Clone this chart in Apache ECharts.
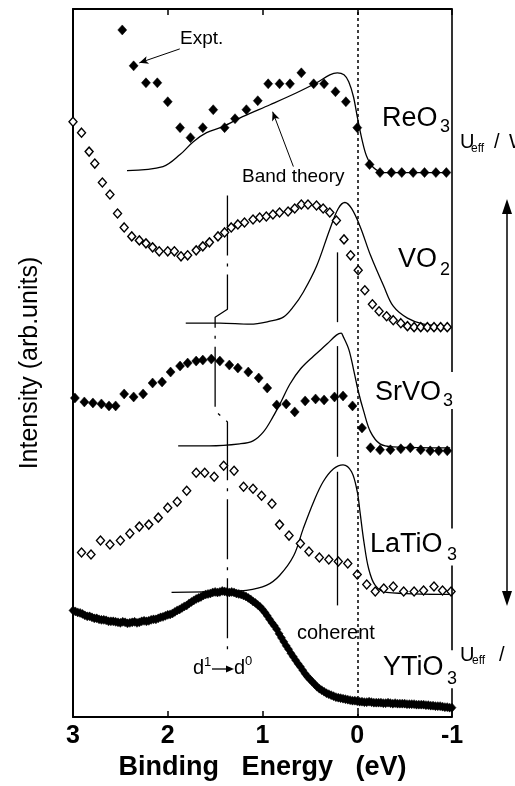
<!DOCTYPE html>
<html>
<head>
<meta charset="utf-8">
<script src="https://cdn.jsdelivr.net/npm/echarts@6/dist/echarts.min.js"></script>
<style>
  html, body { margin: 0; padding: 0; background: #fff; }
  #chart { width: 515px; height: 786px; }
</style>
</head>
<body>
<div id="chart"></div>
<script>
// Photoemission spectra of d0/d1 perovskite-type oxides vs. band theory.
// Energies in eV (binding energy), intensities in arbitrary units with a vertical offset per compound.

const xTicks = [3, 2, 1, 0, -1];

// ReO3
const reo3ExptE = [2.48, 2.36, 2.23, 2.11, 2.00, 1.87, 1.76, 1.63, 1.52, 1.40, 1.29, 1.17, 1.05, 0.94, 0.82, 0.71, 0.59, 0.46, 0.35, 0.23, 0.12, 0.00, -0.13, -0.24, -0.36, -0.47, -0.59, -0.71, -0.83, -0.94];
const reo3ExptI = [689, 653, 636, 636, 617, 591, 581, 591, 609, 591, 600, 609, 618, 635, 635, 635, 646, 635, 635, 627, 617, 591, 554, 546, 546, 546, 546, 546, 546, 546];
const reo3BandE = [2.43, 2.05, 1.87, 1.73, 1.59, 1.42, 1.21, 0.92, 0.64, 0.43, 0.29, 0.21, 0.14, 0.09, 0.04, 0.00, -0.05, -0.10, -0.17, -0.28, -0.98];
const reo3BandI = [548, 552, 564, 577, 586, 592, 602, 614, 626, 636, 644, 646, 644, 637, 622, 602, 579, 562, 551, 546, 546];

// VO2
const vo2ExptE = [3.00, 2.91, 2.83, 2.77, 2.69, 2.61, 2.53, 2.46, 2.38, 2.30, 2.23, 2.16, 2.09, 2.00, 1.93, 1.86, 1.79, 1.70, 1.63, 1.56, 1.47, 1.40, 1.33, 1.26, 1.19, 1.10, 1.03, 0.96, 0.89, 0.82, 0.73, 0.66, 0.59, 0.52, 0.43, 0.36, 0.29, 0.22, 0.14, 0.07, -0.01, -0.08, -0.16, -0.23, -0.31, -0.38, -0.46, -0.53, -0.60, -0.67, -0.74, -0.81, -0.88, -0.95];
const vo2ExptI = [597, 586, 567, 555, 536, 524, 505, 491, 482, 478, 475, 471, 467, 467, 467, 462, 463, 468, 472, 476, 482, 486, 491, 494, 496, 499, 501, 502, 504, 506, 507, 510, 514, 514, 513, 510, 506, 498, 479, 463, 448, 428, 414, 407, 402, 398, 395, 392, 391, 391, 391, 391, 391, 391];
const vo2BandE = [1.81, 1.45, 1.13, 0.92, 0.78, 0.67, 0.57, 0.43, 0.29, 0.20, 0.13, 0.06, -0.03, -0.14, -0.28, -0.38, -0.53, -0.70, -0.98];
const vo2BandI = [395, 395, 394, 397, 401, 412, 426, 452, 489, 510, 516, 510, 492, 463, 432, 412, 400, 394, 392];

// SrVO3
const srvo3ExptE = [2.98, 2.88, 2.79, 2.70, 2.62, 2.55, 2.46, 2.36, 2.26, 2.16, 2.06, 1.97, 1.87, 1.79, 1.70, 1.63, 1.54, 1.45, 1.35, 1.26, 1.15, 1.04, 0.95, 0.85, 0.75, 0.66, 0.55, 0.44, 0.35, 0.24, 0.15, 0.05, -0.05, -0.14, -0.24, -0.35, -0.46, -0.56, -0.67, -0.77, -0.86, -0.95];
const srvo3ExptI = [320, 316, 315, 314, 312, 312, 324, 321, 324, 335, 336, 346, 352, 355, 357, 358, 359, 357, 353, 350, 346, 340, 330, 313, 314, 306, 317, 319, 318, 321, 322, 312, 290, 270, 268, 268, 269, 270, 268, 267, 267, 267];
const srvo3BandE = [1.89, 1.56, 1.24, 1.10, 0.99, 0.89, 0.80, 0.71, 0.60, 0.46, 0.32, 0.22, 0.17, 0.15, 0.09, 0.04, -0.01, -0.07, -0.14, -0.24, -0.38, -0.98];
const srvo3BandI = [272, 272, 274, 277, 286, 301, 317, 334, 349, 362, 374, 383, 385, 382, 369, 349, 327, 306, 286, 274, 271, 270];

// LaTiO3
const latio3ExptE = [2.91, 2.81, 2.71, 2.61, 2.50, 2.40, 2.30, 2.20, 2.10, 2.00, 1.90, 1.80, 1.70, 1.61, 1.51, 1.41, 1.30, 1.20, 1.10, 1.01, 0.90, 0.82, 0.72, 0.60, 0.51, 0.40, 0.30, 0.20, 0.10, 0.00, -0.10, -0.19, -0.28, -0.38, -0.49, -0.60, -0.70, -0.81, -0.90, -0.99];
const latio3ExptI = [165, 163, 177, 173, 177, 184, 191, 193, 200, 210, 216, 227, 245, 245, 241, 252, 247, 231, 229, 222, 214, 193, 182, 174, 166, 160, 158, 156, 154, 143, 133, 126, 129, 131, 126, 126, 127, 131, 127, 126];
const latio3BandE = [1.96, 1.38, 1.17, 0.96, 0.82, 0.67, 0.57, 0.46, 0.36, 0.25, 0.15, 0.06, 0.00, -0.03, -0.07, -0.12, -0.19, -0.31, -0.98];
const latio3BandI = [125, 126, 127, 132, 142, 162, 189, 216, 236, 249, 253, 246, 226, 205, 176, 149, 132, 125, 123];

// YTiO3 (densely sampled spectrum)
const ytio3ExptE = [
  3.000, 2.975, 2.950, 2.925, 2.900, 2.875, 2.850, 2.825, 2.800, 2.775,
  2.750, 2.725, 2.700, 2.675, 2.650, 2.625, 2.600, 2.575, 2.550, 2.525,
  2.500, 2.475, 2.450, 2.425, 2.400, 2.375, 2.350, 2.325, 2.300, 2.275,
  2.250, 2.225, 2.200, 2.175, 2.150, 2.125, 2.100, 2.075, 2.050, 2.025,
  2.000, 1.975, 1.950, 1.925, 1.900, 1.875, 1.850, 1.825, 1.800, 1.775,
  1.750, 1.725, 1.700, 1.675, 1.650, 1.625, 1.600, 1.575, 1.550, 1.525,
  1.500, 1.475, 1.450, 1.425, 1.400, 1.375, 1.350, 1.325, 1.300, 1.275,
  1.250, 1.225, 1.200, 1.175, 1.150, 1.125, 1.100, 1.075, 1.050, 1.025,
  1.000, 0.975, 0.950, 0.925, 0.900, 0.875, 0.850, 0.825, 0.800, 0.775,
  0.750, 0.725, 0.700, 0.675, 0.650, 0.625, 0.600, 0.575, 0.550, 0.525,
  0.500, 0.475, 0.450, 0.425, 0.400, 0.375, 0.350, 0.325, 0.300, 0.275,
  0.250, 0.225, 0.200, 0.175, 0.150, 0.125, 0.100, 0.075, 0.050, 0.025,
  0.000, -0.025, -0.050, -0.075, -0.100, -0.125, -0.150, -0.175, -0.200, -0.225,
  -0.250, -0.275, -0.300, -0.325, -0.350, -0.375, -0.400, -0.425, -0.450, -0.475,
  -0.500, -0.525, -0.550, -0.575, -0.600, -0.625, -0.650, -0.675, -0.700, -0.725,
  -0.750, -0.775, -0.800, -0.825, -0.850, -0.875, -0.900, -0.925, -0.950, -0.975,
  -1.000
];
const ytio3ExptI = [
  107, 106, 105, 104.5, 103.5, 102, 101, 101, 100, 99,
  99, 98, 97.5, 97.5, 97, 96, 96, 96, 95.5, 95,
  94.5, 95.5, 95, 94, 94.5, 95, 95.5, 94.5, 95, 96,
  96.5, 96, 96.5, 97.5, 98, 98, 99, 100, 100.5, 101.5,
  102.5, 103, 104, 105.5, 107, 108, 109.5, 111, 112, 114,
  115.5, 117, 118.5, 119.5, 120.5, 122, 123, 123.5, 124, 125,
  125.5, 125, 125.5, 126.5, 126, 125.5, 125, 125.5, 125, 124,
  123.5, 123, 122, 121, 119.5, 118, 116, 114.5, 112.5, 110.5,
  108, 105, 101.5, 98, 94.5, 91.5, 88, 83.5, 79.5, 75.5,
  71.5, 68, 64, 60.5, 57, 53.5, 50.5, 47, 43.5, 40.5,
  38, 35.5, 33, 30.5, 28.5, 27, 25.5, 24, 23, 22,
  21, 20, 19.5, 19, 18.5, 18, 17.5, 17, 16.5, 16.5,
  16, 15.5, 15.5, 15, 15, 15.5, 15, 14.5, 14.5, 14.5,
  14.5, 14, 14, 14.5, 14, 13.5, 14, 13.5, 13.5, 13.5,
  13.5, 13, 13, 13, 13, 12.5, 12.5, 12.5, 12.5, 12,
  12, 11.5, 11.5, 11, 11, 11, 10.5, 10, 10, 9.5,
  9.5
];

// Guide lines: incoherent d1 -> d0 feature and coherent peak position
const incoherentGuideE = [1.37, 1.37, 1.50, 1.50, 1.37, 1.37];
const incoherentGuideI = [523, 409, 401, 307, 296, 66];
const coherentGuideE = 0.21;
const coherentGuideSegments = [[466, 396], [372, 261], [246, 112]];

const pairs = (xs, ys) => xs.map((x, i) => [x, ys[i]]);

const FONT = '"Liberation Sans", Arial, Helvetica, sans-serif';
const INK = '#000';

function expt(name, xs, ys, open, size) {
  return {
    name, type: 'scatter', z: 4,
    data: pairs(xs, ys),
    symbol: 'diamond',
    symbolSize: size,
    itemStyle: open
      ? { color: '#fff', borderColor: INK, borderWidth: 1.4, opacity: 1 }
      : { color: INK, borderColor: INK, borderWidth: 0.5, opacity: 1 },
    emphasis: { disabled: true },
    silent: true
  };
}
function band(name, xs, ys) {
  return {
    name, type: 'line', z: 3,
    data: pairs(xs, ys),
    showSymbol: false, symbol: 'none',
    smooth: 0.35,
    lineStyle: { color: INK, width: 1.3 },
    emphasis: { disabled: true },
    silent: true
  };
}

const chart = echarts.init(document.getElementById('chart'), null, { renderer: 'canvas' });

const axisCommon = {
  type: 'value', min: -1, max: 3, interval: 1, inverse: true,
  axisLine: { show: true, onZero: false, lineStyle: { color: INK, width: 2 } },
  axisTick: { show: true, inside: true, length: 6, lineStyle: { color: INK, width: 1.5 } },
  splitLine: { show: false }
};

const textEls = [];
function txt(t, x, y, size, weight) {
  textEls.push({
    type: 'text', silent: true, z: 10,
    style: {
      text: t, x, y, fill: INK,
      font: (weight || 'normal') + ' ' + size + 'px ' + FONT,
      textAlign: 'left', align: 'left',
      textVerticalAlign: 'middle', verticalAlign: 'middle'
    }
  });
}
txt('Expt.', 180, 39, 19);
txt('Band theory', 242, 176.5, 19);
txt('ReO', 382, 119, 27); txt('3', 440, 127, 18);
txt('VO', 398, 260, 27); txt('2', 440, 270, 18);
txt('SrVO', 375, 392.5, 27); txt('3', 443, 401.5, 18);
txt('LaTiO', 370, 545, 27); txt('3', 447, 555, 18);
txt('YTiO', 383, 668, 27); txt('3', 447, 679.5, 18);
txt('coherent', 297, 633, 20);
txt('U', 460, 142.5, 20); txt('eff', 471, 149, 12); txt('/', 494, 142, 20); txt('W', 509, 142, 20);
txt('U', 460, 655, 20); txt('eff', 472, 661, 12); txt('/', 499, 655, 20);
txt('d', 193, 668, 20); txt('1', 204, 662, 13);
txt('d', 234, 668, 20); txt('0', 245, 661, 13);

const shapes = [
  // d1 -> d0 arrow
  { type: 'line', silent: true, shape: { x1: 212, y1: 669, x2: 227, y2: 669 }, style: { stroke: INK, lineWidth: 1.3 } },
  { type: 'polygon', silent: true, shape: { points: [[226, 665.5], [234, 669], [226, 672.5]] }, style: { fill: INK } },
  // U_eff / W scale arrow
  { type: 'line', silent: true, shape: { x1: 507, y1: 210, x2: 507, y2: 595 }, style: { stroke: INK, lineWidth: 1.5 } },
  { type: 'polygon', silent: true, shape: { points: [[507, 199], [502, 214], [512, 214]] }, style: { fill: INK } },
  { type: 'polygon', silent: true, shape: { points: [[507, 606], [502, 591], [512, 591]] }, style: { fill: INK } }
];

const option = {
  animation: false,
  backgroundColor: '#fff',
  grid: { left: 73, right: 63, top: 9, bottom: 67, containLabel: false },
  xAxis: [
    Object.assign({}, axisCommon, {
      position: 'bottom',
      axisLabel: {
        show: true, color: INK, fontSize: 25, fontWeight: 'bold', fontFamily: FONT, margin: 7,
        formatter: v => (xTicks.indexOf(v) >= 0 ? String(v) : '')
      },
      name: 'Binding   Energy   (eV)',
      nameLocation: 'middle', nameGap: 36,
      nameTextStyle: { color: INK, fontSize: 27, fontWeight: 'bold', fontFamily: FONT }
    }),
    Object.assign({}, axisCommon, {
      position: 'top',
      axisLabel: { show: false }
    })
  ],
  yAxis: [{
    type: 'value', min: 0, max: 710, position: 'left',
    axisLine: { show: true, onZero: false, lineStyle: { color: INK, width: 2 } },
    axisTick: { show: false }, axisLabel: { show: false }, splitLine: { show: false },
    name: 'Intensity (arb.units)', nameLocation: 'middle', nameRotate: 90, nameGap: 30,
    nameTextStyle: { color: INK, fontSize: 25, fontFamily: FONT }
  }],
  series: [
    expt('YTiO3', ytio3ExptE, ytio3ExptI, false, [8, 9]),
    band('LaTiO3 band', latio3BandE, latio3BandI),
    expt('LaTiO3', latio3ExptE, latio3ExptI, true, [8, 9]),
    band('SrVO3 band', srvo3BandE, srvo3BandI),
    expt('SrVO3', srvo3ExptE, srvo3ExptI, false, [9, 10]),
    band('VO2 band', vo2BandE, vo2BandI),
    expt('VO2', vo2ExptE, vo2ExptI, true, [8, 9]),
    band('ReO3 band', reo3BandE, reo3BandI),
    expt('ReO3', reo3ExptE, reo3ExptI, false, [9, 10]),
    {
      name: 'd1-d0 guide', type: 'line', z: 2,
      data: pairs(incoherentGuideE, incoherentGuideI),
      showSymbol: false, symbol: 'none',
      lineStyle: { color: INK, width: 1.3, type: [60, 8, 3, 8] },
      silent: true
    },
    {
      name: 'guides', type: 'line', data: [], silent: true,
      markLine: {
        silent: true, symbol: 'none', animation: false,
        label: { show: false },
        lineStyle: { color: INK, width: 1.3, type: 'solid' },
        data: [
          [{ coord: [0, 0], lineStyle: { type: [3, 3], width: 1.5 } }, { coord: [0, 710] }],
          ...coherentGuideSegments.map(s => [{ coord: [coherentGuideE, s[0]] }, { coord: [coherentGuideE, s[1]] }]),
          // right frame, interrupted by the compound labels
          [{ coord: [-1, 710], lineStyle: { width: 1.6 } }, { coord: [-1, 346] }],
          [{ coord: [-1, 309], lineStyle: { width: 1.6 } }, { coord: [-1, 189] }],
          [{ coord: [-1, 152], lineStyle: { width: 1.6 } }, { coord: [-1, 67] }],
          [{ coord: [-1, 29], lineStyle: { width: 1.6 } }, { coord: [-1, 0] }]
        ]
      }
    },
    {
      name: 'pointers', type: 'line', data: [], silent: true,
      markLine: {
        silent: true, animation: false,
        symbol: ['none', 'arrow'], symbolSize: [6, 9],
        label: { show: false },
        lineStyle: { color: INK, width: 1, type: 'solid' },
        itemStyle: { color: INK },
        data: [
          [{ coord: [1.873, 670] }, { coord: [2.30, 656] }],
          [{ coord: [0.674, 552] }, { coord: [0.893, 607] }]
        ]
      }
    }
  ],
  graphic: { elements: textEls.concat(shapes) }
};

chart.setOption(option);
</script>
</body>
</html>
